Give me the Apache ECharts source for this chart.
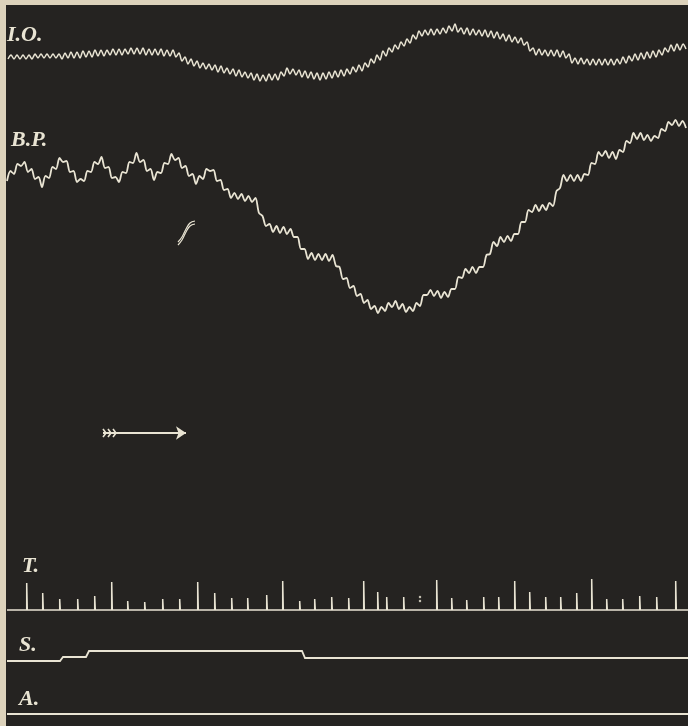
<!DOCTYPE html>
<html>
<head>
<meta charset="utf-8">
<script src="https://cdn.jsdelivr.net/npm/echarts@6/dist/echarts.min.js"></script>
<style>
  html, body { margin: 0; padding: 0; background: #dcd2bb; }
  #chart { width: 688px; height: 726px; }
</style>
</head>
<body>
<div id="chart"></div>
<script>
// I.O. trace, read every 3 units from x = 8
var ioStart = 8, ioStep = 3;
var ioY = [
  59, 55, 59, 55, 59, 55, 59, 55, 59, 54,
  58, 54, 58, 54, 58, 54, 58, 54, 59, 53,
  58, 52, 58, 52, 58, 51, 57, 51, 57, 50,
  56, 50, 56, 50, 55, 49, 55, 49, 55, 49,
  54, 48, 54, 48, 54, 48, 55, 49, 55, 49,
  55, 49, 56, 50, 56, 50, 57, 53, 61, 57,
  64, 59, 66, 61, 68, 63, 69, 64, 70, 65,
  72, 66, 73, 68, 74, 69, 76, 70, 77, 72,
  78, 73, 80, 74, 81, 75, 81, 74, 80, 74,
  80, 72, 76, 68, 74, 69, 75, 70, 77, 71,
  78, 72, 79, 73, 80, 73, 79, 72, 78, 71,
  77, 70, 76, 69, 74, 67, 72, 65, 71, 63,
  67, 59, 63, 55, 60, 51, 56, 48, 52, 45,
  49, 42, 46, 39, 43, 35, 39, 31, 36, 30,
  35, 29, 35, 29, 34, 28, 33, 26, 31, 24,
  32, 28, 34, 28, 35, 29, 35, 30, 36, 30,
  37, 31, 38, 32, 39, 34, 41, 35, 42, 37,
  43, 38, 45, 42, 51, 48, 55, 49, 55, 50,
  56, 50, 56, 50, 57, 51, 58, 54, 63, 58,
  64, 58, 64, 59, 65, 59, 65, 59, 65, 59,
  65, 59, 65, 59, 64, 57, 63, 56, 61, 54,
  60, 53, 59, 52, 58, 51, 57, 50, 55, 48,
  52, 45, 51, 44, 50, 44, 49
];

// B.P. trace, read every 3.5 units from x = 7
var bpStart = 7, bpStep = 3.5;
var bpY = [
  181, 171, 174, 164, 166, 162, 172, 169, 179, 177,
  187, 176, 178, 167, 169, 158, 162, 161, 172, 171,
  182, 179, 181, 171, 172, 162, 164, 157, 168, 167,
  178, 177, 182, 172, 173, 162, 163, 153, 162, 160,
  171, 169, 180, 172, 173, 163, 164, 154, 160, 158,
  168, 166, 176, 174, 184, 176, 179, 169, 171, 170,
  181, 180, 190, 189, 198, 193, 199, 194, 201, 196,
  202, 198, 213, 216, 226, 224, 232, 226, 233, 227,
  234, 229, 237, 237, 249, 249, 259, 253, 260, 254,
  260, 254, 261, 255, 266, 267, 279, 278, 288, 286,
  296, 294, 303, 300, 309, 306, 313, 307, 311, 303,
  307, 301, 309, 304, 312, 307, 311, 303, 306, 295,
  295, 290, 296, 291, 298, 292, 297, 289, 289, 277,
  278, 269, 273, 267, 273, 267, 267, 255, 254, 242,
  246, 237, 242, 236, 241, 234, 234, 222, 222, 210,
  212, 205, 211, 205, 210, 203, 206, 191, 188, 175,
  181, 175, 181, 175, 181, 174, 175, 163, 164, 152,
  156, 151, 158, 152, 159, 150, 152, 141, 143, 133,
  139, 133, 140, 135, 141, 136, 138, 129, 131, 122,
  125, 120, 126, 121, 128
];

// T. time marker: tick positions and tick tops
var timeBase = 610;
var timeX = [27, 43, 60, 78, 95, 112, 128, 145, 163, 180,
  198, 215, 232, 248, 267, 283, 300, 315, 332, 349,
  364, 378, 387, 404, 437, 452, 467, 484, 499, 515,
  530, 546, 561, 577, 592, 607, 623, 640, 657, 676];
var timeTop = [583, 593, 599, 599, 596, 582, 601, 602, 599, 599,
  582, 593, 598, 598, 595, 581, 601, 599, 597, 598,
  581, 592, 597, 597, 580, 598, 600, 597, 597, 581,
  592, 597, 597, 593, 579, 599, 599, 596, 597, 581];
var timeDots = [[420, 597], [420, 601]];

// S. signal line
var signalX = [7, 60, 63, 86, 89, 302, 305, 688];
var signalY = [661, 661, 657, 657, 651, 651, 658, 658];

// A. line
var aLevel = 714;

// arrow and stray mark
var arrowFrom = [103, 433], arrowTo = [186, 433];
var featherX = [103, 108, 113];
var strayX = [178, 182, 186, 190, 195];
var strayY = [242, 237, 229, 223, 221];

var ink = '#e9e4d3';
var xMin = 6, xMax = 688;

function toPoints(start, step, ys) {
  var pts = [];
  for (var i = 0; i < ys.length; i++) {
    pts.push([start + i * step, ys[i]]);
  }
  return pts;
}

function timePoints() {
  var pts = [[7, timeBase]];
  for (var i = 0; i < timeX.length; i++) {
    var x = timeX[i];
    pts.push([x - 0.3, timeBase], [x - 0.3, timeTop[i]], [x + 0.3, timeTop[i]], [x + 0.3, timeBase]);
  }
  pts.push([xMax, timeBase]);
  return pts;
}

function zip(xs, ys) {
  var pts = [];
  for (var i = 0; i < xs.length; i++) pts.push([xs[i], ys[i]]);
  return pts;
}

function feathers() {
  var out = [];
  for (var i = 0; i < featherX.length; i++) {
    var x = featherX[i];
    out.push({ coords: [[x, arrowFrom[1] - 4], [x + 3, arrowFrom[1]], [x, arrowFrom[1] + 4]] });
  }
  return out;
}

function plainLine(name, data, width, smooth) {
  return {
    name: name,
    type: 'line',
    data: data,
    symbol: 'none',
    silent: true,
    smooth: smooth || false,
    lineStyle: { color: ink, width: width, join: 'miter' }
  };
}

var labelStyle = {
  color: ink,
  fontFamily: 'Liberation Serif',
  fontStyle: 'italic',
  fontWeight: 'bold',
  fontSize: 22
};

var chart = echarts.init(document.getElementById('chart'), null, { renderer: 'canvas' });

var option = {
  animation: false,
  backgroundColor: '#dcd2bb',
  title: [
    { text: 'I.O.', left: 7, top: 24, padding: 0, textStyle: labelStyle },
    { text: 'B.P.', left: 11, top: 129, padding: 0, textStyle: labelStyle },
    { text: 'T.', left: 22, top: 555, padding: 0, textStyle: labelStyle },
    { text: 'S.', left: 19, top: 634, padding: 0, textStyle: labelStyle },
    { text: 'A.', left: 19, top: 688, padding: 0, textStyle: labelStyle }
  ],
  grid: {
    left: 6, right: 0, top: 5, bottom: 0,
    show: true, backgroundColor: '#252321', borderWidth: 0
  },
  xAxis: { type: 'value', min: xMin, max: xMax, show: false },
  yAxis: { type: 'value', min: 5, max: 726, inverse: true, show: false },
  series: [
    plainLine('I.O.', toPoints(ioStart, ioStep, ioY), 1.5, 0.3),
    plainLine('B.P.', toPoints(bpStart, bpStep, bpY), 1.8, 0.3),
    plainLine('T.', timePoints(), 1.5),
    plainLine('S.', zip(signalX, signalY), 1.8),
    plainLine('A.', [[7, aLevel], [xMax, aLevel]], 2),
    plainLine('stray', zip(strayX, strayY), 1.2, 0.4),
    plainLine('stray2', zip(strayX, strayY.map(function (v) { return v + 3; })), 1.2, 0.4),
    {
      name: 'dots',
      type: 'scatter',
      data: timeDots,
      symbolSize: 2.5,
      silent: true,
      itemStyle: { color: ink }
    },
    {
      name: 'arrow',
      type: 'lines',
      coordinateSystem: 'cartesian2d',
      symbol: ['none', 'arrow'],
      symbolSize: 10,
      silent: true,
      lineStyle: { color: ink, width: 2, opacity: 1 },
      data: [{ coords: [arrowFrom, arrowTo] }]
    },
    {
      name: 'feathers',
      type: 'lines',
      coordinateSystem: 'cartesian2d',
      polyline: true,
      silent: true,
      lineStyle: { color: ink, width: 1.6, opacity: 1 },
      data: feathers()
    }
  ]
};

chart.setOption(option);
window.addEventListener('resize', chart.resize);
</script>
</body>
</html>
